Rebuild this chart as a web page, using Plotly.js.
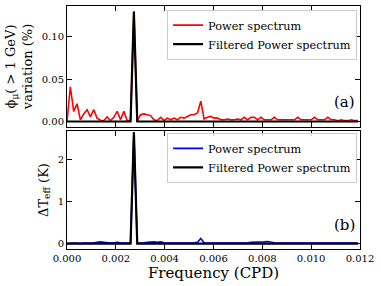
<!DOCTYPE html>
<html>
<head>
<meta charset="utf-8">
<script src="https://cdn.plot.ly/plotly-3.0.1.min.js"></script>
<style>html,body{margin:0;padding:0;background:#fff}#chart{width:381px;height:286px}</style>
</head>
<body>
<div id="chart"></div>
<script>
// Frequency grid: FFT bins (cycles per day), step 1/7300 CPD
const FREQ_STEP = 1 / 7300;
const N_BINS = 88;

// (a) muon flux variation power spectrum (%)
const muonPower = [
  0.000, 0.041, 0.012, 0.021, 0.002, 0.009, 0.014, 0.0055, 0.014, 0.004,
  0.0015, 0.001, 0.0055, 0.001, 0.005, 0.012, 0.002, 0.012, 0.001, 0.001,
  0.130, 0.001, 0.008, 0.009, 0.008, 0.007, 0.002, 0.001, 0.005, 0.001,
  0.004, 0.002, 0.004, 0.002, 0.005, 0.004, 0.006, 0.008, 0.008, 0.010,
  0.024, 0.003, 0.005, 0.006, 0.004, 0.004, 0.002, 0.002, 0.003, 0.002,
  0.002, 0.003, 0.002, 0.005, 0.002, 0.005, 0.005, 0.002, 0.005, 0.002,
  0.002, 0.002, 0.005, 0.002, 0.002, 0.002, 0.002, 0.002, 0.002, 0.005,
  0.002, 0.002, 0.002, 0.002, 0.005, 0.002, 0.002, 0.002, 0.005, 0.002,
  0.002, 0.001, 0.002, 0.001, 0.001, 0.002, 0.001, 0.001
];
// (a) filtered muon power spectrum: only the annual bin kept
const muonFiltered = [
  0,0,0,0,0,0,0,0,0,0, 0,0,0,0,0,0,0,0,0,0,
  0.130,0,0,0,0,0,0,0,0,0, 0,0,0,0,0,0,0,0,0,0,
  0,0,0,0,0,0,0,0,0,0, 0,0,0,0,0,0,0,0,0,0,
  0,0,0,0,0,0,0,0,0,0, 0,0,0,0,0,0,0,0,0,0,
  0,0,0,0,0,0,0,0
];
// (b) effective temperature power spectrum (K)
const tempPower = [
  0.00, 0.01, 0.01, 0.01, 0.00, 0.01, 0.01, 0.01, 0.02, 0.03,
  0.04, 0.03, 0.02, 0.01, 0.02, 0.03, 0.02, 0.01, 0.01, 0.01,
  2.66, 0.01, 0.01, 0.02, 0.03, 0.04, 0.04, 0.03, 0.04, 0.02,
  0.01, 0.01, 0.01, 0.01, 0.01, 0.02, 0.02, 0.01, 0.02, 0.03,
  0.12, 0.02, 0.01, 0.01, 0.01, 0.01, 0.01, 0.01, 0.01, 0.01,
  0.01, 0.01, 0.01, 0.01, 0.02, 0.03, 0.03, 0.03, 0.03, 0.04,
  0.05, 0.03, 0.02, 0.01, 0.01, 0.01, 0.01, 0.01, 0.01, 0.01,
  0.01, 0.01, 0.01, 0.01, 0.01, 0.01, 0.01, 0.01, 0.01, 0.01,
  0.01, 0.01, 0.01, 0.01, 0.01, 0.01, 0.01, 0.01
];
// (b) filtered temperature spectrum
const tempFiltered = [
  0,0,0,0,0,0,0,0,0,0, 0,0,0,0,0,0,0,0,0,0,
  2.66,0,0,0,0,0,0,0,0,0, 0,0,0,0,0,0,0,0,0,0,
  0,0,0,0,0,0,0,0,0,0, 0,0,0,0,0,0,0,0,0,0,
  0,0,0,0,0,0,0,0,0,0, 0,0,0,0,0,0,0,0,0,0,
  0,0,0,0,0,0,0,0
];

const freq = [];
for (let i = 0; i < N_BINS; i++) freq.push(i * FREQ_STEP);

const xTicks = [0, 0.002, 0.004, 0.006, 0.008, 0.010, 0.012];
const xTickText = ['0.000','0.002','0.004','0.006','0.008','0.010','0.012'];
const yTicksA = [0, 0.05, 0.10];
const yTickTextA = ['0.00','0.05','0.10'];
const yTicksB = [0, 1, 2];
const yTickTextB = ['0','1','2'];

const SERIF = 'DejaVu Serif, serif';

const traces = [
  {x: freq, y: muonPower, type: 'scatter', mode: 'lines', name: 'Power spectrum',
   line: {color: '#ff0000', width: 1.6}, xaxis: 'x', yaxis: 'y', legend: 'legend'},
  {x: freq, y: muonFiltered, type: 'scatter', mode: 'lines', name: 'Filtered Power spectrum',
   line: {color: '#000000', width: 2.2}, xaxis: 'x', yaxis: 'y', legend: 'legend'},
  {x: freq, y: tempPower, type: 'scatter', mode: 'lines', name: 'Power spectrum',
   line: {color: '#0000ff', width: 1.6}, xaxis: 'x2', yaxis: 'y2', legend: 'legend2'},
  {x: freq, y: tempFiltered, type: 'scatter', mode: 'lines', name: 'Filtered Power spectrum',
   line: {color: '#000000', width: 2.2}, xaxis: 'x2', yaxis: 'y2', legend: 'legend2'}
];

const axisCommon = {
  showgrid: false, zeroline: false, showline: true, linecolor: '#000', linewidth: 1,
  mirror: 'allticks', ticks: 'inside', ticklen: 5, tickwidth: 1, tickcolor: '#000',
  tickfont: {family: SERIF, size: 10, color: '#000'}
};

const legendCommon = {
  xanchor: 'right', x: 0.99, yanchor: 'top',
  bgcolor: 'rgba(255,255,255,0.8)', bordercolor: '#cccccc', borderwidth: 1,
  font: {family: SERIF, size: 11.3, color: '#000'}, tracegroupgap: 0,
  itemwidth: 30
};

const layout = {
  width: 381, height: 286,
  margin: {l: 67, r: 21, t: 6, b: 37},
  paper_bgcolor: '#fff', plot_bgcolor: '#fff',
  showlegend: true,
  xaxis: Object.assign({}, axisCommon, {
    domain: [0, 1], range: [0, 0.012], anchor: 'y',
    tickvals: xTicks, ticktext: xTickText, showticklabels: false
  }),
  yaxis: Object.assign({}, axisCommon, {
    domain: [0.502, 1], range: [-0.0065, 0.1365], anchor: 'x',
    tickvals: yTicksA, ticktext: yTickTextA,
    title: {text: 'ϕ<sub>μ</sub>( > 1 GeV)<br>variation (%)', font: {family: SERIF, size: 13, color: '#000'}, standoff: 6}
  }),
  xaxis2: Object.assign({}, axisCommon, {
    domain: [0, 1], range: [0, 0.012], anchor: 'y2',
    tickvals: xTicks, ticktext: xTickText,
    title: {text: 'Frequency (CPD)', font: {family: SERIF, size: 15, color: '#000'}, standoff: 3}
  }),
  yaxis2: Object.assign({}, axisCommon, {
    domain: [0, 0.4856], range: [-0.13, 2.69], anchor: 'x2',
    tickvals: yTicksB, ticktext: yTickTextB,
    title: {text: 'ΔT<sub>eff</sub> (K)', font: {family: SERIF, size: 13, color: '#000'}, standoff: 6}
  }),
  legend: Object.assign({}, legendCommon, {y: 0.985}),
  legend2: Object.assign({}, legendCommon, {y: 0.478}),
  annotations: [
    {text: '(a)', xref: 'paper', yref: 'paper', x: 0.99, y: 0.606, xanchor: 'right', yanchor: 'middle',
     showarrow: false, font: {family: SERIF, size: 15, color: '#000'}},
    {text: '(b)', xref: 'paper', yref: 'paper', x: 0.99, y: 0.099, xanchor: 'right', yanchor: 'middle',
     showarrow: false, font: {family: SERIF, size: 15, color: '#000'}}
  ]
};

Plotly.newPlot('chart', traces, layout, {displayModeBar: false, staticPlot: true});
</script>
</body>
</html>
